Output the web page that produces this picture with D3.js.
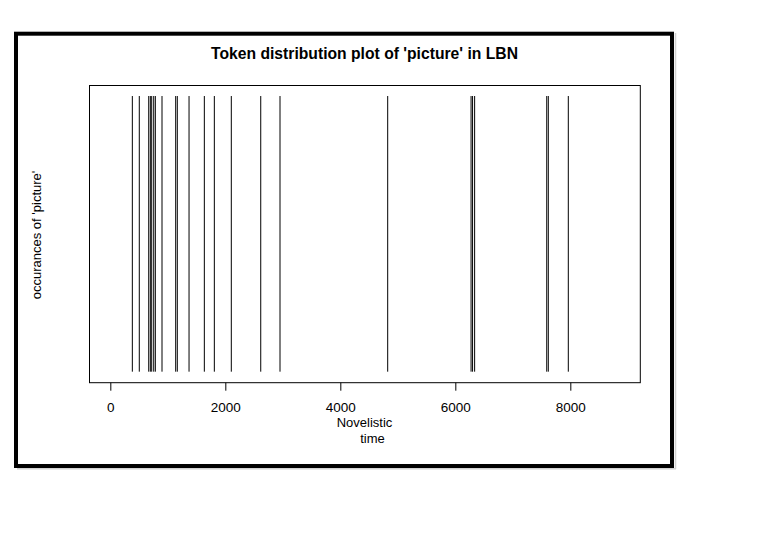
<!DOCTYPE html>
<html>
<head>
<meta charset="utf-8">
<script src="https://cdn.jsdelivr.net/npm/d3@7"></script>
<style>
  html, body { margin: 0; padding: 0; background: #fff; }
  svg { display: block; }
  text { font-family: "Liberation Sans", Arial, sans-serif; fill: #000; }
</style>
</head>
<body>
<svg id="chart" width="783" height="538"></svg>
<script>
// Token positions of 'picture' (novelistic time)
const tokenPositions = [383, 504, 668, 696, 720, 755, 783, 899, 1137, 1165, 1369, 1635, 1809, 2104, 2616, 2951, 4824, 6274, 6300, 6336, 7590, 7617, 7965];
const xTicks = [0, 2000, 4000, 6000, 8000];
const titleText = "Token distribution plot of 'picture' in LBN";
const xLabelLines = ["Novelistic", "time"];
const yLabelText = "occurances of 'picture'";

const svg = d3.select("#chart");

// Outer frame
svg.append("line").attr("x1", 675.5).attr("x2", 675.5).attr("y1", 33).attr("y2", 469)
  .attr("stroke", "#d0d0d0").attr("stroke-width", 1.5);
svg.append("line").attr("x1", 17).attr("x2", 676).attr("y1", 468.8).attr("y2", 468.8)
  .attr("stroke", "#d0d0d0").attr("stroke-width", 1.5);
svg.append("rect").attr("x", 16).attr("y", 33.7).attr("width", 656).attr("height", 432.3)
  .attr("fill", "none").attr("stroke", "#000").attr("stroke-width", 4);

const plot = { left: 89.5, right: 640.3, top: 85.5, bottom: 382.7 };

const x = d3.scaleLinear().domain([-362, 9217]).range([plot.left, plot.right]);
const y = d3.scaleLinear().domain([-0.04, 1.04]).range([plot.bottom, plot.top - 0.5]);

// Token lines
svg.append("g").selectAll("line").data(tokenPositions).join("line")
  .attr("x1", d => x(d)).attr("x2", d => x(d))
  .attr("y1", y(0)).attr("y2", y(1))
  .attr("stroke", "#000").attr("stroke-width", 1);

// Plot box
svg.append("rect").attr("x", plot.left).attr("y", plot.top)
  .attr("width", plot.right - plot.left).attr("height", plot.bottom - plot.top)
  .attr("fill", "none").attr("stroke", "#000").attr("stroke-width", 1);

// X axis
const xAxis = d3.axisBottom(x).tickValues(xTicks).tickSize(8).tickPadding(12)
  .tickFormat(d3.format("d"));
const gx = svg.append("g").attr("transform", `translate(0,${plot.bottom})`).call(xAxis);
gx.select(".domain").remove();
gx.selectAll(".tick line").attr("stroke", "#000");
gx.selectAll(".tick text").attr("font-size", 13.5).attr("font-family", "Liberation Sans, Arial, sans-serif")
  .attr("fill", "#000").attr("dy", null).attr("y", 29.8);

// Title
svg.append("text").attr("x", 364.5).attr("y", 59).attr("text-anchor", "middle")
  .attr("font-size", 15.7).attr("font-weight", "bold").text(titleText);

// X label
svg.append("text").attr("x", 364.5).attr("y", 426.7).attr("text-anchor", "middle")
  .attr("font-size", 13).text(xLabelLines[0]);
svg.append("text").attr("x", 372.5).attr("y", 442.7).attr("text-anchor", "middle")
  .attr("font-size", 13).text(xLabelLines[1]);

// Y label
svg.append("text").attr("transform", "translate(40.7,235) rotate(-90)")
  .attr("text-anchor", "middle").attr("font-size", 13).text(yLabelText);
</script>
</body>
</html>
